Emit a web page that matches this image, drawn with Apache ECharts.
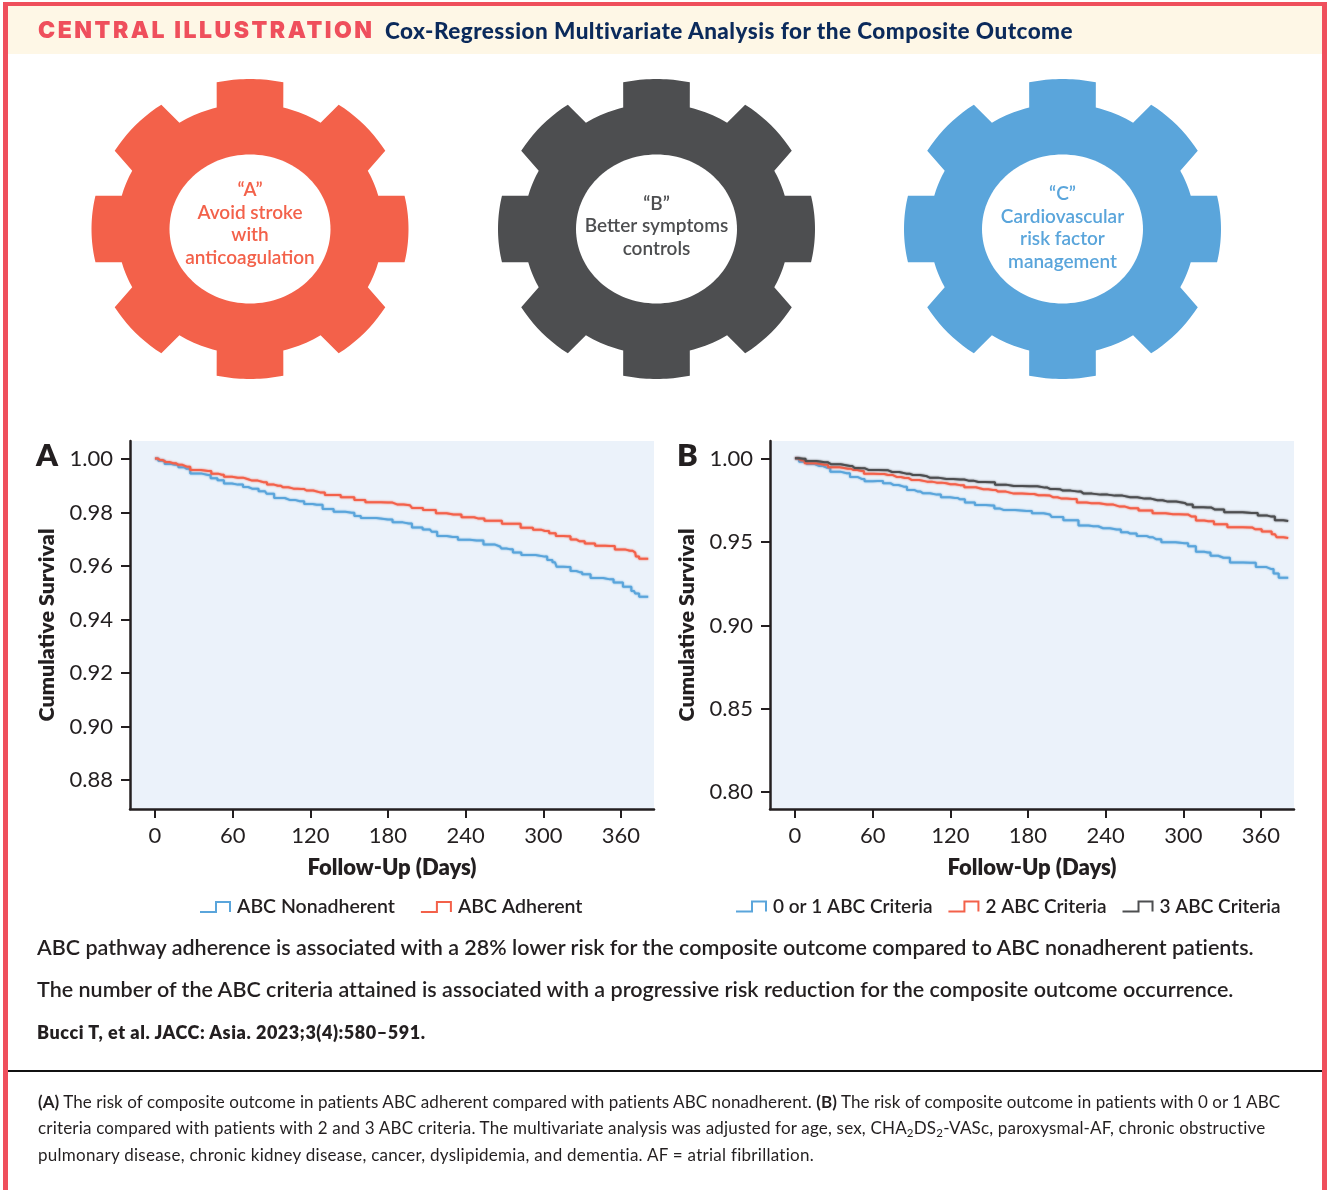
<!DOCTYPE html>
<html><head><meta charset="utf-8">
<script src="https://cdn.jsdelivr.net/npm/echarts@6/dist/echarts.min.js"></script>
<style>
html,body{margin:0;padding:0;background:#fff;width:1331px;height:1190px;overflow:hidden}
#chart{position:absolute;left:0;top:0;width:1331px;height:1190px}
.frame{position:absolute;left:3px;top:2px;width:1314px;height:1300px;border:5px solid #EF4F5C;border-width:4px 5px 5px 5px;box-sizing:content-box}
.band{position:absolute;left:8px;top:6px;width:1314px;height:48px;background:#FEF7E6}
.rule{position:absolute;left:8px;top:1070px;width:1314px;height:2px;background:#111}
.t{position:absolute;white-space:nowrap;font-family:Lato,sans-serif;color:#231F20;transform:translateY(-50%);line-height:1.2}
sub{font-size:.68em;line-height:0;vertical-align:-.25em}
</style></head><body>
<div class="band"></div>
<div class="rule"></div>
<div id="chart"></div>
<div class="frame"></div>
<div class="t fit" data-w="334" style="left:38px;top:30px;font:900 23px Inter,sans-serif;color:#EF4F5C">CENTRAL ILLUSTRATION</div>
<div class="t fit" data-w="688" style="left:385px;top:30px;font-weight:900;font-size:22.5px;color:#0B2A5B">Cox-Regression Multivariate Analysis for the Composite Outcome</div>
<div class="t fit" data-w="1217" style="left:37px;top:948px;font-weight:600;font-size:21.5px">ABC pathway adherence is associated with a 28% lower risk for the composite outcome compared to ABC nonadherent patients.</div>
<div class="t fit" data-w="1196" style="left:37px;top:990px;font-weight:600;font-size:21.5px">The number of the ABC criteria attained is associated with a progressive risk reduction for the composite outcome occurrence.</div>
<div class="t fit" data-w="388" style="left:37px;top:1033px;font-weight:800;font-size:18px">Bucci T, et al. JACC: Asia. 2023;3(4):580–591.</div>
<div class="t fit" data-w="1243" style="left:38px;top:1102px;font-size:17px"><b>(A)</b> The risk of composite outcome in patients ABC adherent compared with patients ABC nonadherent. <b>(B)</b> The risk of composite outcome in patients with 0 or 1 ABC</div>
<div class="t fit" data-w="1228" style="left:38px;top:1128px;font-size:17px">criteria compared with patients with 2 and 3 ABC criteria. The multivariate analysis was adjusted for age, sex, CHA<sub>2</sub>DS<sub>2</sub>-VASc, paroxysmal-AF, chronic obstructive</div>
<div class="t fit" data-w="776" style="left:38px;top:1155px;font-size:17px">pulmonary disease, chronic kidney disease, cancer, dyslipidemia, and dementia. AF = atrial fibrillation.</div>
<script>
// ---------- Data: [day, cumulative survival] ----------
var dayTicks = [0, 60, 120, 180, 240, 300, 360];
var survivalTicksA = [0.88, 0.90, 0.92, 0.94, 0.96, 0.98, 1.00];
var survivalTicksB = [0.80, 0.85, 0.90, 0.95, 1.00];

var abcNonadherent = [[0,1.0002],[5,.9993],[10,.9981],[15.5,.9978],[20.6,.9969],[24.5,.9963],[30,.9946],[41,.9940],[45,.9928],[51.5,.9920],[55,.9908],[64,.9904],[72,.9895],[75,.9889],[85,.9879],[87.5,.9870],[96.6,.9854],[104,.9847],[112,.9842],[118.5,.9832],[125,.9829],[134,.9813],[142,.9803],[152,.9799],[156,.9787],[162,.9779],[180,.9774],[187,.9763],[196,.9759],[201,.9744],[212.5,.9736],[215,.9728],[221,.9712],[230,.9708],[238,.9698],[248.5,.9695],[259,.9680],[266.5,.9673],[269,.9665],[274,.9663],[279,.9650],[287,.9641],[301,.9635],[305,.9622],[309,.9614],[311.6,.9597],[319,.9596],[323,.9581],[328,.9577],[332,.9569],[341,.9555],[351.5,.9550],[357,.9538],[366,.9522],[370,.9507],[372,.9497],[376,.9485],[381,.9485]];
var abcAdherent = [[0,1.0002],[4,.9996],[8,.9989],[14,.9984],[18,.9978],[24.5,.9971],[30,.9959],[41,.9955],[46,.9945],[51.5,.9941],[55,.9933],[64,.9930],[72,.9924],[75,.9919],[84,.9913],[89,.9904],[95,.9900],[99,.9894],[107,.9889],[113,.9888],[117,.9882],[127.5,.9875],[135,.9865],[152,.9857],[156,.9847],[169,.9838],[180,.9837],[187,.9830],[197,.9827],[200,.9817],[214,.9809],[220,.9797],[230.5,.9792],[243,.9782],[250,.9777],[259,.9769],[277,.9758],[288,.9743],[296,.9735],[301.3,.9731],[307.7,.9722],[311.6,.9712],[319,.9711],[323,.9699],[328,.9692],[336,.9684],[344,.9676],[351.5,.9675],[359,.9662],[367,.9657],[371,.9650],[372,.9635],[376,.9627],[381,.9627]];

var criteria0or1 = [[0,1.0004],[6.4,.9984],[11.6,.9970],[19,.9958],[24.5,.9948],[30,.9924],[40,.9914],[45,.9892],[51.5,.9880],[56,.9866],[64,.9868],[72,.9854],[76,.9844],[84,.9834],[89,.9814],[95,.9804],[99,.9794],[109.5,.9786],[116,.9770],[123.6,.9766],[127.5,.9758],[135,.9738],[143,.9724],[152,.9720],[156,.9702],[161,.9694],[179,.9688],[187,.9674],[197,.9666],[199.6,.9652],[215,.9632],[223,.9600],[230.5,.9596],[238,.9584],[248.5,.9576],[255,.9560],[259,.9552],[269,.9538],[274,.9530],[279,.9518],[287,.9500],[301,.9494],[306.4,.9476],[313,.9443],[319,.9439],[323,.9419],[331,.9407],[341,.9379],[351.5,.9377],[360.5,.9351],[368,.9339],[371.4,.9313],[376,.9287],[381,.9287]];
var criteria2 = [[0,1.0004],[5,.9992],[10,.9974],[23,.9966],[28,.9950],[41,.9942],[45,.9934],[51.5,.9928],[55,.9912],[66,.9910],[72,.9904],[78.5,.9892],[85,.9886],[90,.9874],[102,.9864],[109.5,.9858],[117,.9854],[120,.9848],[127.5,.9843],[134,.9830],[145.5,.9818],[153,.9814],[157,.9804],[169,.9792],[181.6,.9790],[188,.9782],[197,.9780],[199.6,.9770],[206,.9762],[214,.9760],[221.5,.9738],[229,.9734],[241,.9726],[251,.9714],[259,.9704],[271.7,.9690],[280.7,.9674],[292,.9668],[301.3,.9666],[306.4,.9654],[313,.9630],[319.3,.9626],[328,.9608],[340,.9590],[351.5,.9588],[355.4,.9578],[365.7,.9564],[370.8,.9548],[373.4,.9530],[381,.9526]];
var criteria3 = [[0,1.0004],[6.4,1.0002],[10,.9988],[23,.9980],[28,.9968],[42.5,.9958],[46,.9946],[51.5,.9944],[56.7,.9934],[72,.9932],[75,.9922],[86,.9912],[91,.9904],[102,.9896],[104,.9888],[117,.9880],[127.5,.9877],[134,.9870],[141.7,.9862],[152,.9860],[157,.9846],[169,.9838],[181.6,.9836],[193,.9828],[197,.9820],[205,.9818],[207,.9810],[219,.9804],[223,.9792],[236,.9786],[247,.9780],[259,.9770],[270,.9762],[280,.9752],[288,.9744],[301,.9736],[303,.9726],[311.6,.9710],[319,.9708],[324.5,.9696],[338.6,.9680],[353,.9676],[362,.9660],[368,.9654],[373.4,.9632],[381,.9628]];

var gearLabels = [
  {text:'“A”\nAvoid stroke\nwith\nanticoagulation', color:'#F3614A', cx:250, ty:224},
  {text:'“B”\nBetter symptoms\ncontrols',           color:'#4D4E50', cx:656.5, ty:226},
  {text:'“C”\nCardiovascular\nrisk factor\nmanagement', color:'#5AA5DB', cx:1062.5, ty:228}
];
var legendA = ['ABC Nonadherent','ABC Adherent'];
var legendB = ['0 or 1 ABC Criteria','2 ABC Criteria','3 ABC Criteria'];
// ---------------------------------------------------------------------------

var RED='#F3614A', BLUE='#5AA5DB', DARK='#4D4E50', INK='#231F20';
var FONT='Lato, sans-serif';
var STEP_ICON='path://M0 11H15V1H31V12H29V3H17V13H0Z';

// gear outline
function ellipseArc(a,b,rx,ry){
  var t0=Math.atan2(a[1]/ry,a[0]/rx), t1=Math.atan2(b[1]/ry,b[0]/rx), out=[];
  for(var i=0;i<=10;i++){var t=t0+(t1-t0)*i/10; out.push([rx*Math.cos(t),ry*Math.sin(t)]);}
  return out;
}
function gearPoints(){
  var R=[158.5,150], B=[133,125.5], q=[];
  q=q.concat(ellipseArc([0,-150],[33.3,-146.5],R[0],R[1]));
  q=q.concat(ellipseArc([33.3,-121.5],[71,-107],B[0],B[1]));
  q=q.concat(ellipseArc([87.7,-123],[135,-78],R[0],R[1]));
  q=q.concat(ellipseArc([119.3,-59],[128.5,-33.3],B[0],B[1]));
  q=q.concat(ellipseArc([154.5,-33.3],[158.5,0],R[0],R[1]));
  var r=q.slice().reverse().map(function(p){return [p[0],-p[1]];});
  var half=q.concat(r);
  var left=half.slice().reverse().map(function(p){return [-p[0],p[1]];});
  return half.concat(left);
}
var gp=gearPoints();
var graphics=[];
gearLabels.forEach(function(g){
  graphics.push({type:'polygon',x:g.cx,y:229,shape:{points:gp},style:{fill:g.color},silent:true});
  graphics.push({type:'ellipse',shape:{cx:g.cx,cy:229,rx:80.5,ry:74.5},style:{fill:'#fff'},silent:true});
  graphics.push({type:'text',x:g.cx,y:g.ty,silent:true,style:{text:g.text,fill:g.color,font:'600 19px '+FONT,lineHeight:22.5,align:'center',verticalAlign:'middle'}});
});
graphics.push({type:'text',x:36,y:456,silent:true,style:{text:'A',fill:INK,font:'800 31px '+FONT,align:'left',verticalAlign:'middle'}});
graphics.push({type:'text',x:677,y:456,silent:true,style:{text:'B',fill:INK,font:'800 31px '+FONT,align:'left',verticalAlign:'middle'}});

function xAxis(grid){
  return {type:'value',gridIndex:grid,min:-19.3,max:385.5,
    name:'Follow-Up (Days)',nameLocation:'middle',nameGap:48,
    nameTextStyle:{fontFamily:FONT,fontWeight:800,fontSize:22,color:INK},
    axisLine:{show:true,onZero:false,lineStyle:{color:INK,width:2.5}},
    axisTick:{show:true,length:9,customValues:dayTicks,lineStyle:{color:INK,width:2}},
    axisLabel:{show:true,margin:16,customValues:dayTicks,fontFamily:FONT,fontSize:22,color:INK},
    splitLine:{show:false}};
}
function yAxis(grid,min,max,ticks,gap){
  return {type:'value',gridIndex:grid,min:min,max:max,
    name:'Cumulative Survival',nameLocation:'middle',nameGap:gap,nameRotate:90,
    nameTextStyle:{fontFamily:FONT,fontWeight:800,fontSize:21.5,color:INK},
    axisLine:{show:true,onZero:false,lineStyle:{color:INK,width:2.5}},
    axisTick:{show:true,length:9,customValues:ticks,lineStyle:{color:INK,width:2}},
    axisLabel:{show:true,margin:17,customValues:ticks,fontFamily:FONT,fontSize:22,color:INK,
      formatter:function(v){return v.toFixed(2);}},
    splitLine:{show:false}};
}
function line(name,data,color,idx){
  return {type:'line',name:name,data:data,xAxisIndex:idx,yAxisIndex:idx,step:'middle',
    symbol:'none',color:color,itemStyle:{color:color},
    lineStyle:{color:color,width:2,shadowColor:color,shadowBlur:2},
    silent:true,z:3};
}
function legend(names,left,gap,size){
  return {left:left,top:897,orient:'horizontal',padding:0,itemWidth:31,itemHeight:13,itemGap:gap,selectedMode:false,
    itemStyle:{borderWidth:0},lineStyle:{width:0},
    textStyle:{fontFamily:FONT,fontSize:size,fontWeight:600,color:INK,padding:[0,0,0,1]},
    data:names.map(function(n){return {name:n,icon:STEP_ICON};})};
}
var chart=echarts.init(document.getElementById('chart'),null,{width:1331,height:1190,renderer:'canvas'});
chart.setOption({
  animation:false,
  grid:[
    {left:130,top:441,width:524,height:368,show:true,backgroundColor:'#EBF2FA',borderWidth:0,containLabel:false},
    {left:770,top:441,width:524,height:368,show:true,backgroundColor:'#EBF2FA',borderWidth:0,containLabel:false}
  ],
  xAxis:[xAxis(0),xAxis(1)],
  yAxis:[yAxis(0,0.8692,1.0067,survivalTicksA,72),yAxis(1,0.7898,1.0108,survivalTicksB,72)],
  legend:[legend(legendA,200,26,19.5),legend(legendB,736,16,19)],
  series:[
    line(legendA[0],abcNonadherent,BLUE,0),
    line(legendA[1],abcAdherent,RED,0),
    line(legendB[0],criteria0or1,BLUE,1),
    line(legendB[1],criteria2,RED,1),
    line(legendB[2],criteria3,DARK,1)
  ],
  graphic:{elements:graphics}
});
// fit prose lines to their measured widths
document.querySelectorAll('.fit').forEach(function(el){
  var target=+el.dataset.w, n=el.textContent.length-1;
  el.style.letterSpacing=((target-el.getBoundingClientRect().width)/n)+'px';
});
</script>
</body></html>
